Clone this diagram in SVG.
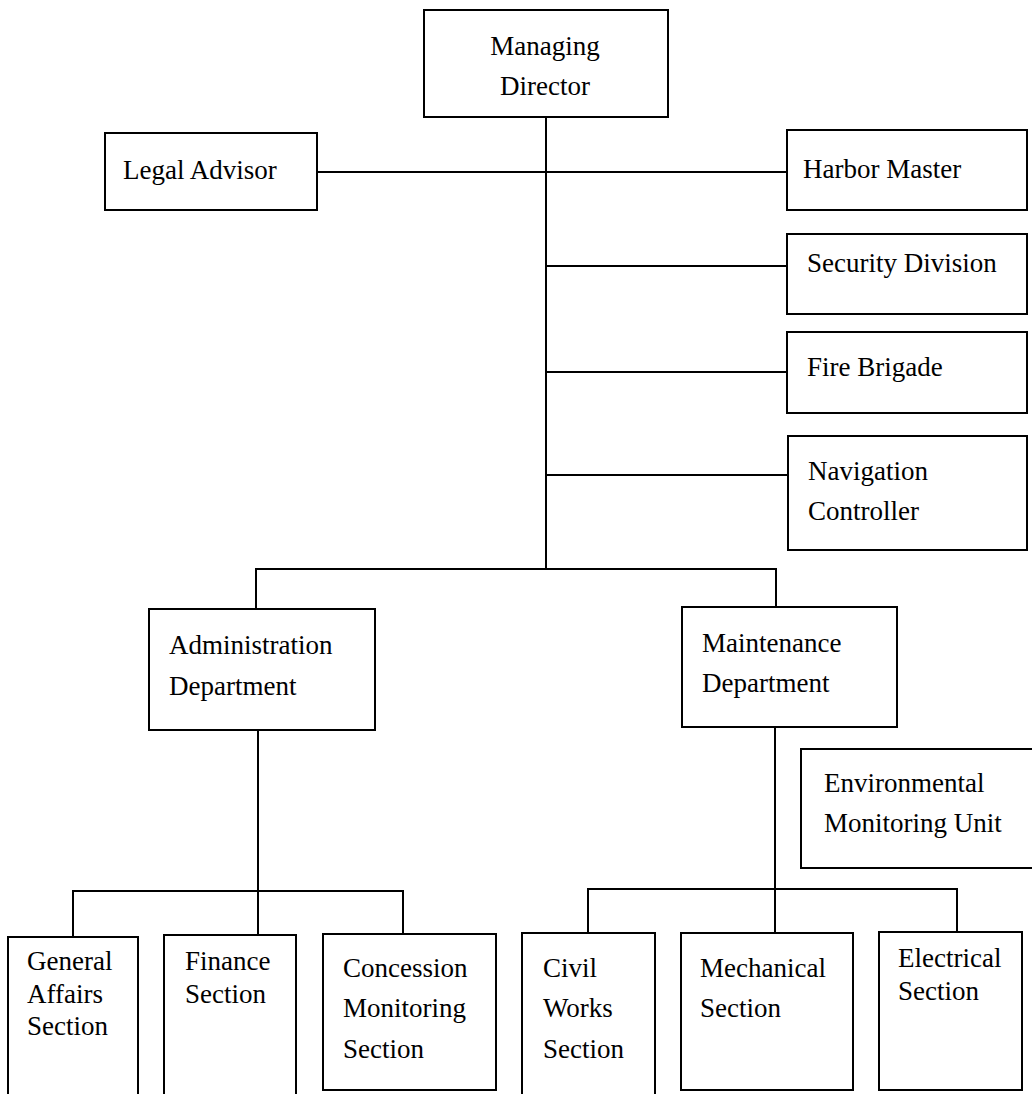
<svg xmlns="http://www.w3.org/2000/svg" width="1032" height="1094" viewBox="0 0 1032 1094">
  <style>
    .box { fill: #ffffff; stroke: #000000; stroke-width: 2; }
    .open { fill: none; stroke: #000000; stroke-width: 2; }
    .wire { fill: none; stroke: #000000; stroke-width: 2; }
    text { font-family: "Liberation Serif", "Times New Roman", serif; font-size: 27px; fill: #000000; }
    .mid { text-anchor: middle; }
  </style>
  <rect x="0" y="0" width="1032" height="1094" fill="#ffffff"/>

  <!-- connectors -->
  <g id="connectors">
    <path class="wire" d="M546 117 V569"/>
    <path class="wire" d="M317 172 H787"/>
    <path class="wire" d="M546 266 H787"/>
    <path class="wire" d="M546 372 H787"/>
    <path class="wire" d="M546 475 H788"/>
    <path class="wire" d="M256 609 V569 H776 V607"/>
    <path class="wire" d="M258 730 V935"/>
    <path class="wire" d="M73 937 V891 H403 V934"/>
    <path class="wire" d="M775 727 V933"/>
    <path class="wire" d="M588 933 V889 H957 V932"/>
  </g>

  <!-- top level -->
  <g id="managing-director">
    <rect class="box" x="424" y="10" width="244" height="107"/>
    <text class="mid" x="545" y="55">Managing</text>
    <text class="mid" x="545" y="95">Director</text>
  </g>
  <g id="legal-advisor">
    <rect class="box" x="105" y="133" width="212" height="77"/>
    <text x="123" y="179">Legal Advisor</text>
  </g>

  <!-- staff units on the right -->
  <g id="harbor-master">
    <rect class="box" x="787" y="130" width="240" height="80"/>
    <text x="803" y="178">Harbor Master</text>
  </g>
  <g id="security-division">
    <rect class="box" x="787" y="234" width="240" height="80"/>
    <text x="807" y="272">Security Division</text>
  </g>
  <g id="fire-brigade">
    <rect class="box" x="787" y="332" width="240" height="81"/>
    <text x="807" y="376">Fire Brigade</text>
  </g>
  <g id="navigation-controller">
    <rect class="box" x="788" y="436" width="239" height="114"/>
    <text x="808" y="480">Navigation</text>
    <text x="808" y="520">Controller</text>
  </g>

  <!-- departments -->
  <g id="administration-department">
    <rect class="box" x="149" y="609" width="226" height="121"/>
    <text x="169" y="654">Administration</text>
    <text x="169" y="695">Department</text>
  </g>
  <g id="maintenance-department">
    <rect class="box" x="682" y="607" width="215" height="120"/>
    <text x="702" y="652">Maintenance</text>
    <text x="702" y="692">Department</text>
  </g>
  <g id="environmental-monitoring-unit">
    <path class="open" d="M1034 749 H801 V868 H1034"/>
    <text x="824" y="792">Environmental</text>
    <text x="824" y="832">Monitoring Unit</text>
  </g>

  <!-- administration sections -->
  <g id="general-affairs-section">
    <path class="open" d="M8 1096 V937 H138 V1096"/>
    <text x="27" y="970">General</text>
    <text x="27" y="1003">Affairs</text>
    <text x="27" y="1035">Section</text>
  </g>
  <g id="finance-section">
    <path class="open" d="M164 1096 V935 H296 V1096"/>
    <text x="185" y="970">Finance</text>
    <text x="185" y="1003">Section</text>
  </g>
  <g id="concession-monitoring-section">
    <rect class="box" x="323" y="934" width="173" height="156"/>
    <text x="343" y="977">Concession</text>
    <text x="343" y="1017">Monitoring</text>
    <text x="343" y="1058">Section</text>
  </g>

  <!-- maintenance sections -->
  <g id="civil-works-section">
    <path class="open" d="M522 1096 V933 H655 V1096"/>
    <text x="543" y="977">Civil</text>
    <text x="543" y="1017">Works</text>
    <text x="543" y="1058">Section</text>
  </g>
  <g id="mechanical-section">
    <rect class="box" x="681" y="933" width="172" height="157"/>
    <text x="700" y="977">Mechanical</text>
    <text x="700" y="1017">Section</text>
  </g>
  <g id="electrical-section">
    <rect class="box" x="879" y="932" width="143" height="158"/>
    <text x="898" y="967">Electrical</text>
    <text x="898" y="1000">Section</text>
  </g>
</svg>
